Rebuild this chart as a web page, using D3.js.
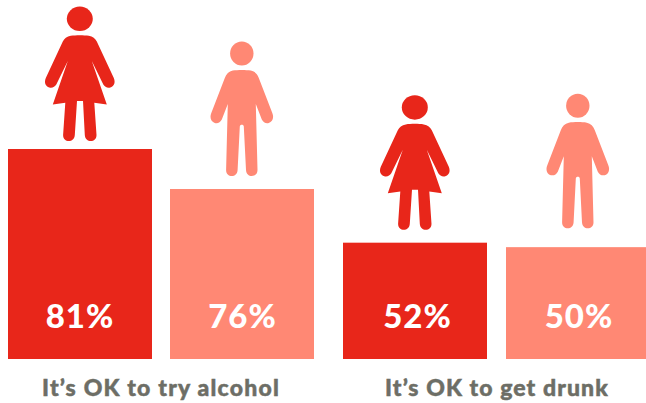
<!DOCTYPE html>
<html>
<head>
<meta charset="utf-8">
<script src="https://cdn.jsdelivr.net/npm/d3@7"></script>
<style>
  html, body { margin: 0; padding: 0; background: #fff; overflow: hidden; }
  text { font-family: Lato, sans-serif; font-weight: 900; }
</style>
</head>
<body>
<svg id="chart" width="646" height="403"></svg>
<script>
const questions = ["It’s OK to try alcohol", "It’s OK to get drunk"];
const groups = ["Girls", "Boys"];
const girlsValues = [81, 52];
const boysValues = [76, 50];
const groupColors = ["#e8261a", "#ff8874"];

const svg = d3.select("#chart");

const baseline = 359;
const barWidth = 144;

const rows = questions.flatMap((q, i) => [
  { question: q, group: "Girls", value: girlsValues[i] },
  { question: q, group: "Boys", value: boysValues[i] }
]);
const rowKey = d => `${d.question}|${d.group}`;

const barLeft = d3.scaleOrdinal().domain(rows.map(rowKey)).range([8, 170, 343, 506]);
const figureGap = d3.scaleOrdinal().domain(rows.map(rowKey)).range([8, 13, 13, 19]);
const valueNudge = d3.scaleOrdinal().domain(rows.map(rowKey)).range([0, 0.5, 2.5, 1]);

// Heights are published with a steeper step above 76%, so the scale has a knot there.
const y = d3.scaleLinear().domain([0, 76, 81]).range([baseline, 189, 149]);
const color = d3.scaleOrdinal().domain(groups).range(groupColors);

// Pictograms are defined around a local origin: centre of the figure, soles at y = 0.
const girlBody = "M-9,-105.3 C-4,-106 4,-106 9,-105.3 C13,-104.800 15.500,-102.500 17,-99.500 L34,-63 C36,-58 34,-54.500 30.500,-53.500 C27.500,-52.800 25,-54 23.500,-56.500 L12,-80 L27,-36.500 L14.500,-38.300 L16.700,-6 C16.700,-2 14,0 11,0 C8,0 5.300,-2 5,-6 L3.200,-40 L-2.800,-40 L-5,-6 C-5.300,-2 -8,0 -11,0 C-14,0 -16.700,-2 -16.700,-6 L-14.500,-38.300 L-27,-36.500 L-12,-80 L-23.500,-56.500 C-25,-54 -27.500,-52.800 -30.500,-53.500 C-34,-54.500 -36,-58 -34,-63 L-17,-99.500 C-15.500,-102.500 -13,-104.800 -9,-105.300 Z";
const boyBody = "M-9,-105.500 C-4,-106.300 4,-106.300 9,-105.500 C13,-104.800 15.500,-102 17,-98 L30.500,-63 C32.500,-58 30.500,-54 27,-53 C24,-52.300 21.500,-53.500 20,-56.500 L14,-72 L15.700,-6 C15.700,-2 13,0 10,0 C7,0 4.500,-2 4.200,-6 L2,-49.500 C2,-52 -2,-52 -2,-49.500 L-4.200,-6 C-4.500,-2 -7,0 -10,0 C-13,0 -15.700,-2 -15.700,-6 L-14,-72 L-20,-56.500 C-21.500,-53.500 -24,-52.300 -27,-53 C-30.500,-54 -32.500,-58 -30.500,-63 L-17,-98 C-15.500,-102 -13,-104.800 -9,-105.500 Z";
const figureSpec = {
  Girls: { body: girlBody, headY: -122.2, headRx: 13, headRy: 12.2 },
  Boys: { body: boyBody, headY: -122.5, headRx: 11.7, headRy: 12 }
};

const cells = svg.selectAll("g.cell")
  .data(rows)
  .join("g")
  .attr("class", "cell")
  .attr("transform", d => `translate(${barLeft(rowKey(d))},0)`);

cells.append("rect")
  .attr("x", 0)
  .attr("y", d => y(d.value))
  .attr("width", barWidth)
  .attr("height", d => baseline - y(d.value))
  .attr("fill", d => color(d.group));

cells.append("text")
  .attr("x", d => barWidth / 2 + valueNudge(rowKey(d)))
  .attr("y", 328)
  .attr("text-anchor", "middle")
  .attr("font-size", 33)
  .attr("letter-spacing", 1)
  .attr("fill", "#fff")
  .text(d => `${d.value}%`);

const figures = cells.append("g")
  .attr("transform", d => `translate(${barWidth / 2 - 0.2},${y(d.value) - figureGap(rowKey(d))})`)
  .attr("fill", d => color(d.group));

figures.append("path").attr("d", d => figureSpec[d.group].body);
figures.append("ellipse")
  .attr("cy", d => figureSpec[d.group].headY)
  .attr("rx", d => figureSpec[d.group].headRx)
  .attr("ry", d => figureSpec[d.group].headRy);

svg.selectAll("text.question")
  .data(questions)
  .join("text")
  .attr("class", "question")
  .attr("x", (d, i) => i === 0 ? 161 : 497)
  .attr("y", 396)
  .attr("text-anchor", "middle")
  .attr("font-size", 23)
  .attr("letter-spacing", (d, i) => i === 0 ? 1.2 : 1.1)
  .attr("fill", "#6d6e66")
  .attr("stroke", "#6d6e66")
  .attr("stroke-width", 0.5)
  .text(d => d);
</script>
</body>
</html>
